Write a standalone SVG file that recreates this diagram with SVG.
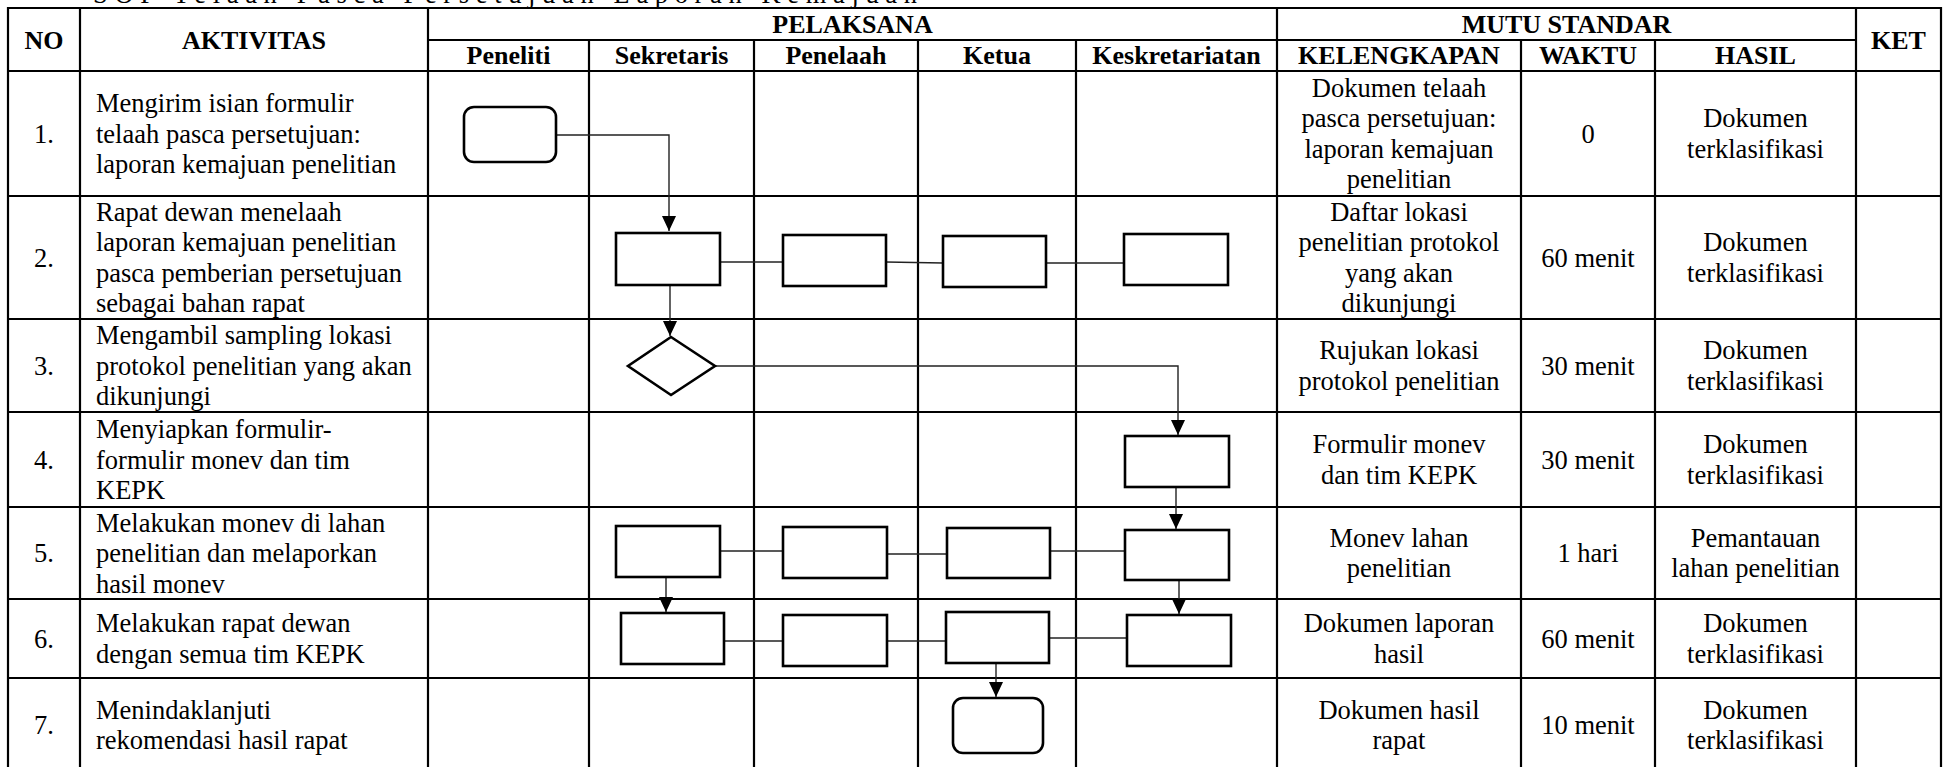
<svg xmlns="http://www.w3.org/2000/svg" width="1944" height="767" viewBox="0 0 1944 767">
<style>
  text { font-family: "Liberation Serif", "Times New Roman", serif; fill: #000; }
  .b { font-size: 26.5px; }
  .c { text-anchor: middle; }
  .h { font-size: 26px; font-weight: bold; text-anchor: middle; }
  .title { font-size: 26.5px; }
  .grid { stroke: #000; stroke-width: 2.2; fill: none; }
  .box { fill: #fff; stroke: #000; stroke-width: 2.6; }
  .conn { fill: none; stroke: #222; stroke-width: 1.4; }
</style>
<defs>
  <marker id="arr" markerUnits="userSpaceOnUse" markerWidth="16" markerHeight="16" refX="15" refY="7" orient="auto">
    <path d="M0,0 L15,7 L0,14 z" fill="#000"/>
  </marker>
</defs>
<rect width="1944" height="767" fill="#fff"/>

<text class="title" x="93" y="3" textLength="824" lengthAdjust="spacing">SOP Telaah Pasca Persetujuan Laporan Kemajuan</text>

<g id="table-grid" class="grid">
  <line x1="8" y1="8" x2="1941" y2="8"/>
  <line x1="428" y1="40" x2="1856" y2="40"/>
  <line x1="8" y1="71" x2="1941" y2="71"/>
  <line x1="8" y1="196" x2="1941" y2="196"/>
  <line x1="8" y1="319" x2="1941" y2="319"/>
  <line x1="8" y1="412" x2="1941" y2="412"/>
  <line x1="8" y1="507" x2="1941" y2="507"/>
  <line x1="8" y1="599" x2="1941" y2="599"/>
  <line x1="8" y1="678" x2="1941" y2="678"/>
  <line x1="8" y1="7" x2="8" y2="767"/>
  <line x1="80" y1="7" x2="80" y2="767"/>
  <line x1="428" y1="7" x2="428" y2="767"/>
  <line x1="589" y1="40" x2="589" y2="767"/>
  <line x1="754" y1="40" x2="754" y2="767"/>
  <line x1="918" y1="40" x2="918" y2="767"/>
  <line x1="1076" y1="40" x2="1076" y2="767"/>
  <line x1="1277" y1="7" x2="1277" y2="767"/>
  <line x1="1521" y1="40" x2="1521" y2="767"/>
  <line x1="1655" y1="40" x2="1655" y2="767"/>
  <line x1="1856" y1="7" x2="1856" y2="767"/>
  <line x1="1941" y1="7" x2="1941" y2="767"/>
</g>

<g id="headers">
  <text class="h" x="44" y="49">NO</text>
  <text class="h" x="254" y="49">AKTIVITAS</text>
  <text class="h" x="852.5" y="33">PELAKSANA</text>
  <text class="h" x="1566.5" y="33">MUTU STANDAR</text>
  <text class="h" x="1898.5" y="49">KET</text>
  <text class="h" x="508.5" y="64">Peneliti</text>
  <text class="h" x="671.5" y="64">Sekretaris</text>
  <text class="h" x="836" y="64">Penelaah</text>
  <text class="h" x="997" y="64">Ketua</text>
  <text class="h" x="1176.5" y="64">Keskretariatan</text>
  <text class="h" x="1399" y="64">KELENGKAPAN</text>
  <text class="h" x="1588" y="64">WAKTU</text>
  <text class="h" x="1755.5" y="64">HASIL</text>
</g>

<g id="row1-text" class="b">
  <text class="c" x="44" y="142.5">1.</text>
  <text x="96" y="112">Mengirim isian formulir</text>
  <text x="96" y="142.5">telaah pasca persetujuan:</text>
  <text x="96" y="173">laporan kemajuan penelitian</text>
  <text class="c" x="1399" y="96.75">Dokumen telaah</text>
  <text class="c" x="1399" y="127.25">pasca persetujuan:</text>
  <text class="c" x="1399" y="157.75">laporan kemajuan</text>
  <text class="c" x="1399" y="188.25">penelitian</text>
  <text class="c" x="1588" y="142.5">0</text>
  <text class="c" x="1755.5" y="127.25">Dokumen</text>
  <text class="c" x="1755.5" y="157.75">terklasifikasi</text>
</g>

<g id="row2-text" class="b">
  <text class="c" x="44" y="266.5">2.</text>
  <text x="96" y="220.75">Rapat dewan menelaah</text>
  <text x="96" y="251.25">laporan kemajuan penelitian</text>
  <text x="96" y="281.75">pasca pemberian persetujuan</text>
  <text x="96" y="312.25">sebagai bahan rapat</text>
  <text class="c" x="1399" y="220.75">Daftar lokasi</text>
  <text class="c" x="1399" y="251.25">penelitian protokol</text>
  <text class="c" x="1399" y="281.75">yang akan</text>
  <text class="c" x="1399" y="312.25">dikunjungi</text>
  <text class="c" x="1588" y="266.5">60 menit</text>
  <text class="c" x="1755.5" y="251.25">Dokumen</text>
  <text class="c" x="1755.5" y="281.75">terklasifikasi</text>
</g>

<g id="row3-text" class="b">
  <text class="c" x="44" y="374.5">3.</text>
  <text x="96" y="344">Mengambil sampling lokasi</text>
  <text x="96" y="374.5">protokol penelitian yang akan</text>
  <text x="96" y="405">dikunjungi</text>
  <text class="c" x="1399" y="359.25">Rujukan lokasi</text>
  <text class="c" x="1399" y="389.75">protokol penelitian</text>
  <text class="c" x="1588" y="374.5">30 menit</text>
  <text class="c" x="1755.5" y="359.25">Dokumen</text>
  <text class="c" x="1755.5" y="389.75">terklasifikasi</text>
</g>

<g id="row4-text" class="b">
  <text class="c" x="44" y="468.5">4.</text>
  <text x="96" y="438">Menyiapkan formulir-</text>
  <text x="96" y="468.5">formulir monev dan tim</text>
  <text x="96" y="499">KEPK</text>
  <text class="c" x="1399" y="453.25">Formulir monev</text>
  <text class="c" x="1399" y="483.75">dan tim KEPK</text>
  <text class="c" x="1588" y="468.5">30 menit</text>
  <text class="c" x="1755.5" y="453.25">Dokumen</text>
  <text class="c" x="1755.5" y="483.75">terklasifikasi</text>
</g>

<g id="row5-text" class="b">
  <text class="c" x="44" y="562">5.</text>
  <text x="96" y="531.5">Melakukan monev di lahan</text>
  <text x="96" y="562">penelitian dan melaporkan</text>
  <text x="96" y="592.5">hasil monev</text>
  <text class="c" x="1399" y="546.75">Monev lahan</text>
  <text class="c" x="1399" y="577.25">penelitian</text>
  <text class="c" x="1588" y="562">1 hari</text>
  <text class="c" x="1755.5" y="546.75">Pemantauan</text>
  <text class="c" x="1755.5" y="577.25">lahan penelitian</text>
</g>

<g id="row6-text" class="b">
  <text class="c" x="44" y="647.5">6.</text>
  <text x="96" y="632.25">Melakukan rapat dewan</text>
  <text x="96" y="662.75">dengan semua tim KEPK</text>
  <text class="c" x="1399" y="632.25">Dokumen laporan</text>
  <text class="c" x="1399" y="662.75">hasil</text>
  <text class="c" x="1588" y="647.5">60 menit</text>
  <text class="c" x="1755.5" y="632.25">Dokumen</text>
  <text class="c" x="1755.5" y="662.75">terklasifikasi</text>
</g>

<g id="row7-text" class="b">
  <text class="c" x="44" y="734">7.</text>
  <text x="96" y="718.75">Menindaklanjuti</text>
  <text x="96" y="749.25">rekomendasi hasil rapat</text>
  <text class="c" x="1399" y="718.75">Dokumen hasil</text>
  <text class="c" x="1399" y="749.25">rapat</text>
  <text class="c" x="1588" y="734">10 menit</text>
  <text class="c" x="1755.5" y="718.75">Dokumen</text>
  <text class="c" x="1755.5" y="749.25">terklasifikasi</text>
</g>

<g id="connectors" class="conn">
  <path d="M556,135 H669 V231" marker-end="url(#arr)"/>
  <path d="M720,262 H783"/>
  <path d="M886,262 L943,263"/>
  <path d="M1046,263 H1124"/>
  <path d="M670,285 V336" marker-end="url(#arr)"/>
  <path d="M715,366 H1178 V435" marker-end="url(#arr)"/>
  <path d="M1176,487 V529" marker-end="url(#arr)"/>
  <path d="M720,551 H783"/>
  <path d="M887,554 H947"/>
  <path d="M1050,551 H1125"/>
  <path d="M666,577 V612" marker-end="url(#arr)"/>
  <path d="M1179,580 V614" marker-end="url(#arr)"/>
  <path d="M724,641 H783"/>
  <path d="M887,641 H949"/>
  <path d="M1049,638 H1127"/>
  <path d="M996,663 V697" marker-end="url(#arr)"/>
</g>

<g id="n1-peneliti-start"><rect class="box" x="464" y="107" width="92" height="55" rx="10"/></g>
<g id="n2-sekretaris"><rect class="box" x="616" y="233" width="104" height="52"/></g>
<g id="n2-penelaah"><rect class="box" x="783" y="235" width="103" height="51"/></g>
<g id="n2-ketua"><rect class="box" x="943" y="236" width="103" height="51"/></g>
<g id="n2-keskretariatan"><rect class="box" x="1124" y="234" width="104" height="51"/></g>
<g id="n3-decision"><polygon class="box" points="671,337 715,366 671,395 628,366"/></g>
<g id="n4-keskretariatan"><rect class="box" x="1125" y="436" width="104" height="51"/></g>
<g id="n5-sekretaris"><rect class="box" x="616" y="526" width="104" height="51"/></g>
<g id="n5-penelaah"><rect class="box" x="783" y="527" width="104" height="51"/></g>
<g id="n5-ketua"><rect class="box" x="947" y="528" width="103" height="50"/></g>
<g id="n5-keskretariatan"><rect class="box" x="1125" y="530" width="104" height="50"/></g>
<g id="n6-sekretaris"><rect class="box" x="621" y="613" width="103" height="51"/></g>
<g id="n6-penelaah"><rect class="box" x="783" y="615" width="104" height="51"/></g>
<g id="n6-ketua"><rect class="box" x="946" y="612" width="103" height="51"/></g>
<g id="n6-keskretariatan"><rect class="box" x="1127" y="615" width="104" height="51"/></g>
<g id="n7-ketua-end"><rect class="box" x="953" y="698" width="90" height="55" rx="10"/></g>
</svg>
